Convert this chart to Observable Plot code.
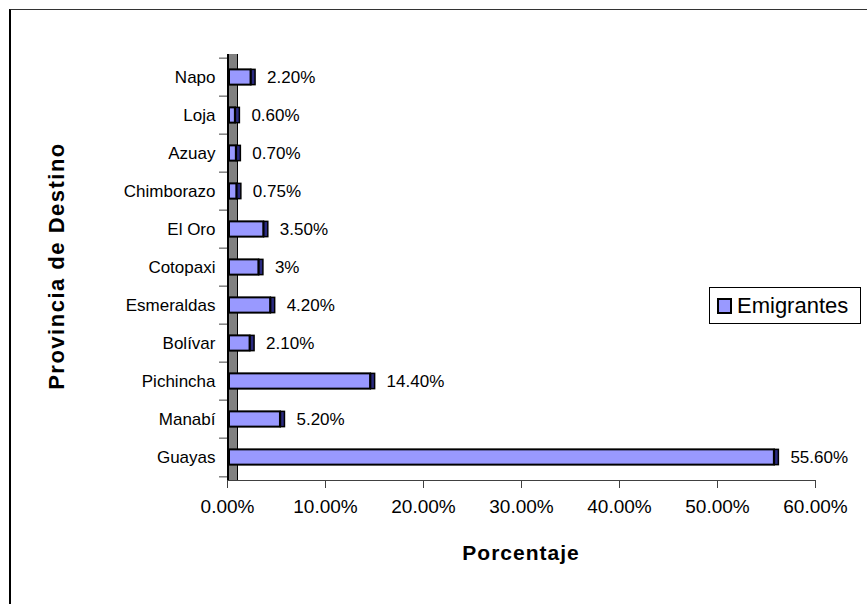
<!DOCTYPE html>
<html>
<head>
<meta charset="utf-8">
<script src="https://cdn.jsdelivr.net/npm/d3@7"></script>
<script src="https://cdn.jsdelivr.net/npm/@observablehq/plot@0.6"></script>
<style>
  html, body { margin: 0; padding: 0; background: #fff; overflow: hidden; }
  #wrap { position: relative; width: 867px; height: 604px; overflow: hidden; font-family: "Liberation Sans", Arial, sans-serif; }
  #frame { position: absolute; left: 9px; top: 9px; width: 900px; height: 700px; border-top: 1px solid #333; border-left: 2px solid #000; box-sizing: border-box; }
  #chart { position: absolute; left: 0; top: 0; }
  #legend { position: absolute; left: 709px; top: 287px; width: 152px; height: 37px; box-sizing: border-box; border: 1px solid #000; background: #fff; display: flex; align-items: center; }
  #legend .sw { width: 15px; height: 16px; box-sizing: border-box; border: 2px solid #000; background: #9999FF; margin-left: 7px; margin-right: 5px; }
  #legend .lb { font-size: 22px; color: #000; }
  .ytitle { position: absolute; left: 57px; top: 266px; transform: translate(-50%, -50%) rotate(-90deg); font-weight: bold; font-size: 22px; letter-spacing: 1.5px; white-space: nowrap; }
  .xtitle { position: absolute; left: 521px; top: 553px; transform: translate(-50%, -50%); font-weight: bold; font-size: 21px; letter-spacing: 1px; white-space: nowrap; }
</style>
</head>
<body>
<div id="wrap">
  <div id="frame"></div>
  <div id="chart"></div>
  <div class="ytitle">Provincia de Destino</div>
  <div class="xtitle">Porcentaje</div>
  <div id="legend"><div class="sw"></div><div class="lb">Emigrantes</div></div>
</div>
<script>
const categories = ["Napo", "Loja", "Azuay", "Chimborazo", "El Oro", "Cotopaxi", "Esmeraldas", "Bolívar", "Pichincha", "Manabí", "Guayas"];
const values = [0.022, 0.006, 0.007, 0.0075, 0.035, 0.03, 0.042, 0.021, 0.144, 0.052, 0.556];
const valueLabels = ["2.20%", "0.60%", "0.70%", "0.75%", "3.50%", "3%", "4.20%", "2.10%", "14.40%", "5.20%", "55.60%"];
const xTicks = [0, 0.1, 0.2, 0.3, 0.4, 0.5, 0.6];
const seriesName = "Emigrantes";

const rows = categories.map((c, i) => ({category: c, value: values[i], label: valueLabels[i]}));

const W = 867, H = 604, mL = 227, mR = 52, mT = 54, mB = 124;
const bw = (H - mT - mB) / categories.length;
const barH = 16;
const inset = (bw - barH) / 2;

const chart = Plot.plot({
  width: W, height: H,
  marginLeft: mL, marginRight: mR, marginTop: mT, marginBottom: mB,
  style: {fontFamily: "'Liberation Sans', Arial, sans-serif", background: "transparent", color: "#000"},
  x: {domain: [0, 0.6], ticks: xTicks, tickFormat: d3.format(".2%")},
  y: {domain: categories, padding: 0},
  marks: [
    Plot.axisX({ticks: xTicks, tickFormat: d3.format(".2%"), tickSize: 8, tickPadding: 11, fontSize: 19, label: null, stroke: "#404040"}),
    Plot.axisY({tickSize: 0, tickPadding: 12, fontSize: 17, label: null}),
    Plot.axisY({ticks: categories, tickSize: 8, text: null, label: null, dy: -bw / 2, stroke: "#404040"}),
    Plot.axisY({ticks: [categories[categories.length - 1]], tickSize: 8, text: null, label: null, dy: bw / 2, stroke: "#404040"}),
    Plot.frame({anchor: "bottom", stroke: "#404040"}),
    Plot.ruleX([0], {stroke: "#000", strokeWidth: 11, dx: 5}),
    Plot.ruleX([0], {stroke: "#808080", strokeWidth: 8, dx: 5.5}),
    Plot.text(rows, {x: "value", y: "category", text: "label", dx: 18, textAnchor: "start", fontSize: 17, fill: "#000"}),
    Plot.barX(rows, {x1: 0, x2: "value", y: "category", insetTop: inset, insetBottom: inset, fill: "#9999FF", stroke: "#000", strokeWidth: 2, dx: 2}),
    Plot.barX(rows, {x1: "value", x2: "value", y: "category", insetTop: inset, insetBottom: inset, insetLeft: 0, insetRight: -4, fill: "#2a2a80", stroke: "#000", strokeWidth: 1.5, dx: 2.5})
  ]
});
document.getElementById("chart").appendChild(chart);
document.querySelector("#legend .lb").textContent = seriesName;
</script>
</body>
</html>
